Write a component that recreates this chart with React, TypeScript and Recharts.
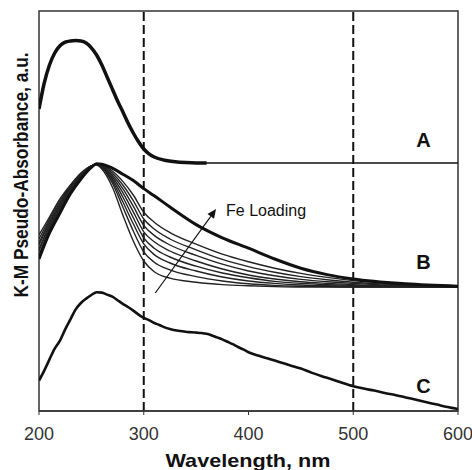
import {
  LineChart, Line, XAxis, YAxis, ReferenceLine, ReferenceArea, ReferenceDot,
} from "recharts";

// wavelength grids (nm)
const aWl = [200, 205, 210, 215, 220, 225, 230, 235, 240, 245, 250, 255, 260, 265, 270, 275, 280, 285, 290, 295, 300, 305, 310, 320, 330, 340, 350, 360];
const aVals = [75.5, 82, 86.5, 89.5, 91.3, 92.2, 92.5, 92.6, 92.5, 92, 90.8, 89, 86.5, 83.5, 80.5, 77.5, 74.8, 72, 69.5, 67.3, 65.5, 64.3, 63.5, 62.7, 62.3, 62.1, 62, 62];
const aTailWl = [350, 400, 450, 500, 550, 600];
const aTailVals = [62, 62, 62, 62, 62, 62];

const bWl = [200, 210, 220, 230, 240, 250, 255, 260, 270, 280, 290, 300, 310, 325, 350, 375, 400, 425, 450, 475, 500, 550, 600];
const b1 = [44, 48.5, 53, 56.5, 59.5, 61.3, 61.5, 60.5, 56, 49, 42.5, 37.5, 34.8, 33.2, 32.2, 31.6, 31.3, 31.1, 31, 31, 31, 31, 31];
const b2 = [43, 48, 52.5, 56.3, 59.3, 61.3, 61.6, 60.8, 57, 51, 45, 39.8, 37.2, 35.3, 33.6, 32.5, 31.8, 31.4, 31.2, 31.1, 31, 31, 31];
const b3 = [42, 47.5, 52, 56, 59.2, 61.3, 61.7, 61, 57.5, 52.3, 46.8, 41.8, 39.1, 37, 35, 33.5, 32.5, 31.9, 31.5, 31.3, 31.2, 31.1, 31];
const b4 = [41.5, 47, 51.7, 55.8, 59, 61.3, 61.7, 61, 58, 53.5, 48.3, 43.3, 40.7, 38.5, 36.2, 34.5, 33.3, 32.4, 31.9, 31.6, 31.4, 31.1, 31];
const b5 = [40.5, 46.5, 51.3, 55.5, 58.8, 61.2, 61.8, 61.2, 58.5, 54.6, 49.8, 44.8, 42.3, 40, 37.5, 35.5, 34, 33, 32.3, 31.9, 31.6, 31.2, 31];
const b6 = [40, 46, 51, 55.3, 58.7, 61.2, 61.8, 61.3, 59, 55.6, 51.2, 46.4, 43.9, 41.5, 38.9, 36.7, 35, 33.8, 32.9, 32.3, 31.9, 31.3, 31];
const b7 = [39, 45.5, 50.5, 55, 58.5, 61.1, 61.8, 61.4, 59.5, 56.5, 52.6, 48, 45.5, 43, 40.3, 37.9, 36.1, 34.7, 33.6, 32.8, 32.2, 31.5, 31];
const b8 = [38.5, 45, 50, 54.6, 58.3, 61, 61.8, 61.5, 60, 57.4, 54, 49.7, 47.2, 44.6, 41.7, 39.2, 37.3, 35.7, 34.4, 33.4, 32.6, 31.7, 31];
const b9 = [38, 44.5, 49.5, 54.3, 58, 60.9, 61.8, 61.7, 60.7, 59.2, 57.6, 55.6, 53.8, 51, 46.6, 43.3, 40.7, 38, 35.7, 34.1, 33, 31.8, 31.2];
const bSeries = [b1, b2, b3, b4, b5, b6, b7, b8];

const cWl = [200, 205, 210, 215, 220, 225, 230, 235, 240, 245, 250, 255, 260, 265, 270, 275, 280, 285, 290, 295, 300, 305, 310, 315, 320, 325, 330, 335, 340, 345, 350, 355, 360, 365, 370, 375, 380, 385, 390, 395, 400, 410, 420, 430, 440, 450, 460, 470, 480, 490, 500, 510, 520, 530, 540, 550, 560, 570, 580, 590, 600];
const cVals = [7.6, 10.1, 12.9, 15.6, 17.6, 20.4, 22.9, 25.4, 27, 28.1, 29, 29.7, 29.6, 29.1, 28.6, 27.7, 26.8, 26, 25.1, 24.1, 23.3, 22.7, 22, 21.5, 20.9, 20.5, 20.2, 20, 19.8, 19.7, 19.6, 19.5, 19.3, 18.9, 18.4, 17.9, 17.3, 16.7, 16, 15.4, 14.7, 13.8, 13, 12.2, 11.4, 10.6, 9.6, 8.7, 7.9, 7, 6.2, 5.6, 5.1, 4.5, 4, 3.4, 2.8, 2.2, 1.6, 1, 0.5];

const xTicks = [200, 300, 400, 500, 600];
const dashedAt = [300, 500];

const pts = (wl: number[], v: number[]) => wl.map((w, i) => ({ wl: w, v: v[i] }));

const INK = "#111";

function Arrow(props: any) {
  const { x1, y1, x2, y2 } = props;
  const ang = Math.atan2(y2 - y1, x2 - x1);
  const len = 9;
  const w = 4;
  const bx = x2 - len * Math.cos(ang);
  const by = y2 - len * Math.sin(ang);
  const px = -Math.sin(ang) * w;
  const py = Math.cos(ang) * w;
  return (
    <g>
      <line x1={x1} y1={y1} x2={bx} y2={by} stroke={INK} strokeWidth={1.2} />
      <polygon points={`${x2},${y2} ${bx + px},${by + py} ${bx - px},${by - py}`} fill={INK} />
    </g>
  );
}

export default function App() {
  return (
    <div style={{ position: "absolute", left: 0, top: 0, background: "#fff", fontFamily: "'Liberation Sans', Arial, sans-serif" }}>
      <LineChart width={472} height={470} margin={{ top: 11, right: 14, bottom: 0, left: 0 }}>
        <XAxis
          dataKey="wl"
          type="number"
          domain={[200, 600]}
          ticks={xTicks}
          allowDataOverflow
          height={59}
          tickSize={4}
          tickMargin={12}
          tick={{ fontSize: 18, fill: "#333" }}
          axisLine={{ stroke: "#333", strokeWidth: 1.5 }}
          tickLine={{ stroke: "#333" }}
          label={{
            content: () => (
              <text x={248} y={467} textAnchor="middle" fontSize={19} fontWeight="bold" textLength={165} lengthAdjust="spacingAndGlyphs" fill={INK}>
                Wavelength, nm
              </text>
            ),
          }}
        />
        <YAxis
          type="number"
          domain={[0, 100]}
          allowDataOverflow
          width={39}
          tick={false}
          axisLine={false}
          tickLine={false}
          label={{
            content: () => (
              <text
                x={28}
                y={175}
                transform="rotate(-90 28 175)"
                textAnchor="middle"
                fontSize={20}
                fontWeight="bold"
                textLength={245}
                lengthAdjust="spacingAndGlyphs"
                fill={INK}
              >
                K-M Pseudo-Absorbance, a.u.
              </text>
            ),
          }}
        />
        <ReferenceArea x1={200} x2={600} y1={0} y2={100} fill="none" stroke="#333" strokeWidth={1.5} />
        {dashedAt.map((x) => (
          <ReferenceLine key={x} x={x} stroke={INK} strokeWidth={2} strokeDasharray="9 4" />
        ))}

        <Line data={pts(aTailWl, aTailVals)} dataKey="v" type="monotone" stroke={INK} strokeWidth={1.6} dot={false} isAnimationActive={false} />
        <Line data={pts(aWl, aVals)} dataKey="v" type="monotone" stroke={INK} strokeWidth={3.5} dot={false} isAnimationActive={false} />

        {bSeries.map((s, i) => (
          <Line key={i} data={pts(bWl, s)} dataKey="v" type="monotone" stroke="#222" strokeWidth={1.4} dot={false} isAnimationActive={false} />
        ))}
        <Line data={pts(bWl, b9)} dataKey="v" type="monotone" stroke={INK} strokeWidth={3} dot={false} isAnimationActive={false} />

        <Line data={pts(cWl, cVals)} dataKey="v" type="monotone" stroke={INK} strokeWidth={2.6} dot={false} isAnimationActive={false} />

        <ReferenceLine segment={[{ x: 311, y: 29.5 }, { x: 369, y: 50.5 }]} shape={Arrow} />
        <ReferenceDot x={377.6} y={50.1} r={1} fill="none" stroke="none"
          label={{ value: "Fe Loading", position: "right", offset: 0, fontSize: 16, fill: INK }} />
        <ReferenceDot x={567} y={67.8} r={1} fill="none" stroke="none"
          label={{ value: "A", position: "center", fontSize: 20, fontWeight: "bold", fill: INK }} />
        <ReferenceDot x={567} y={37.4} r={1} fill="none" stroke="none"
          label={{ value: "B", position: "center", fontSize: 20, fontWeight: "bold", fill: INK }} />
        <ReferenceDot x={567} y={6.4} r={1} fill="none" stroke="none"
          label={{ value: "C", position: "center", fontSize: 20, fontWeight: "bold", fill: INK }} />
      </LineChart>
    </div>
  );
}
